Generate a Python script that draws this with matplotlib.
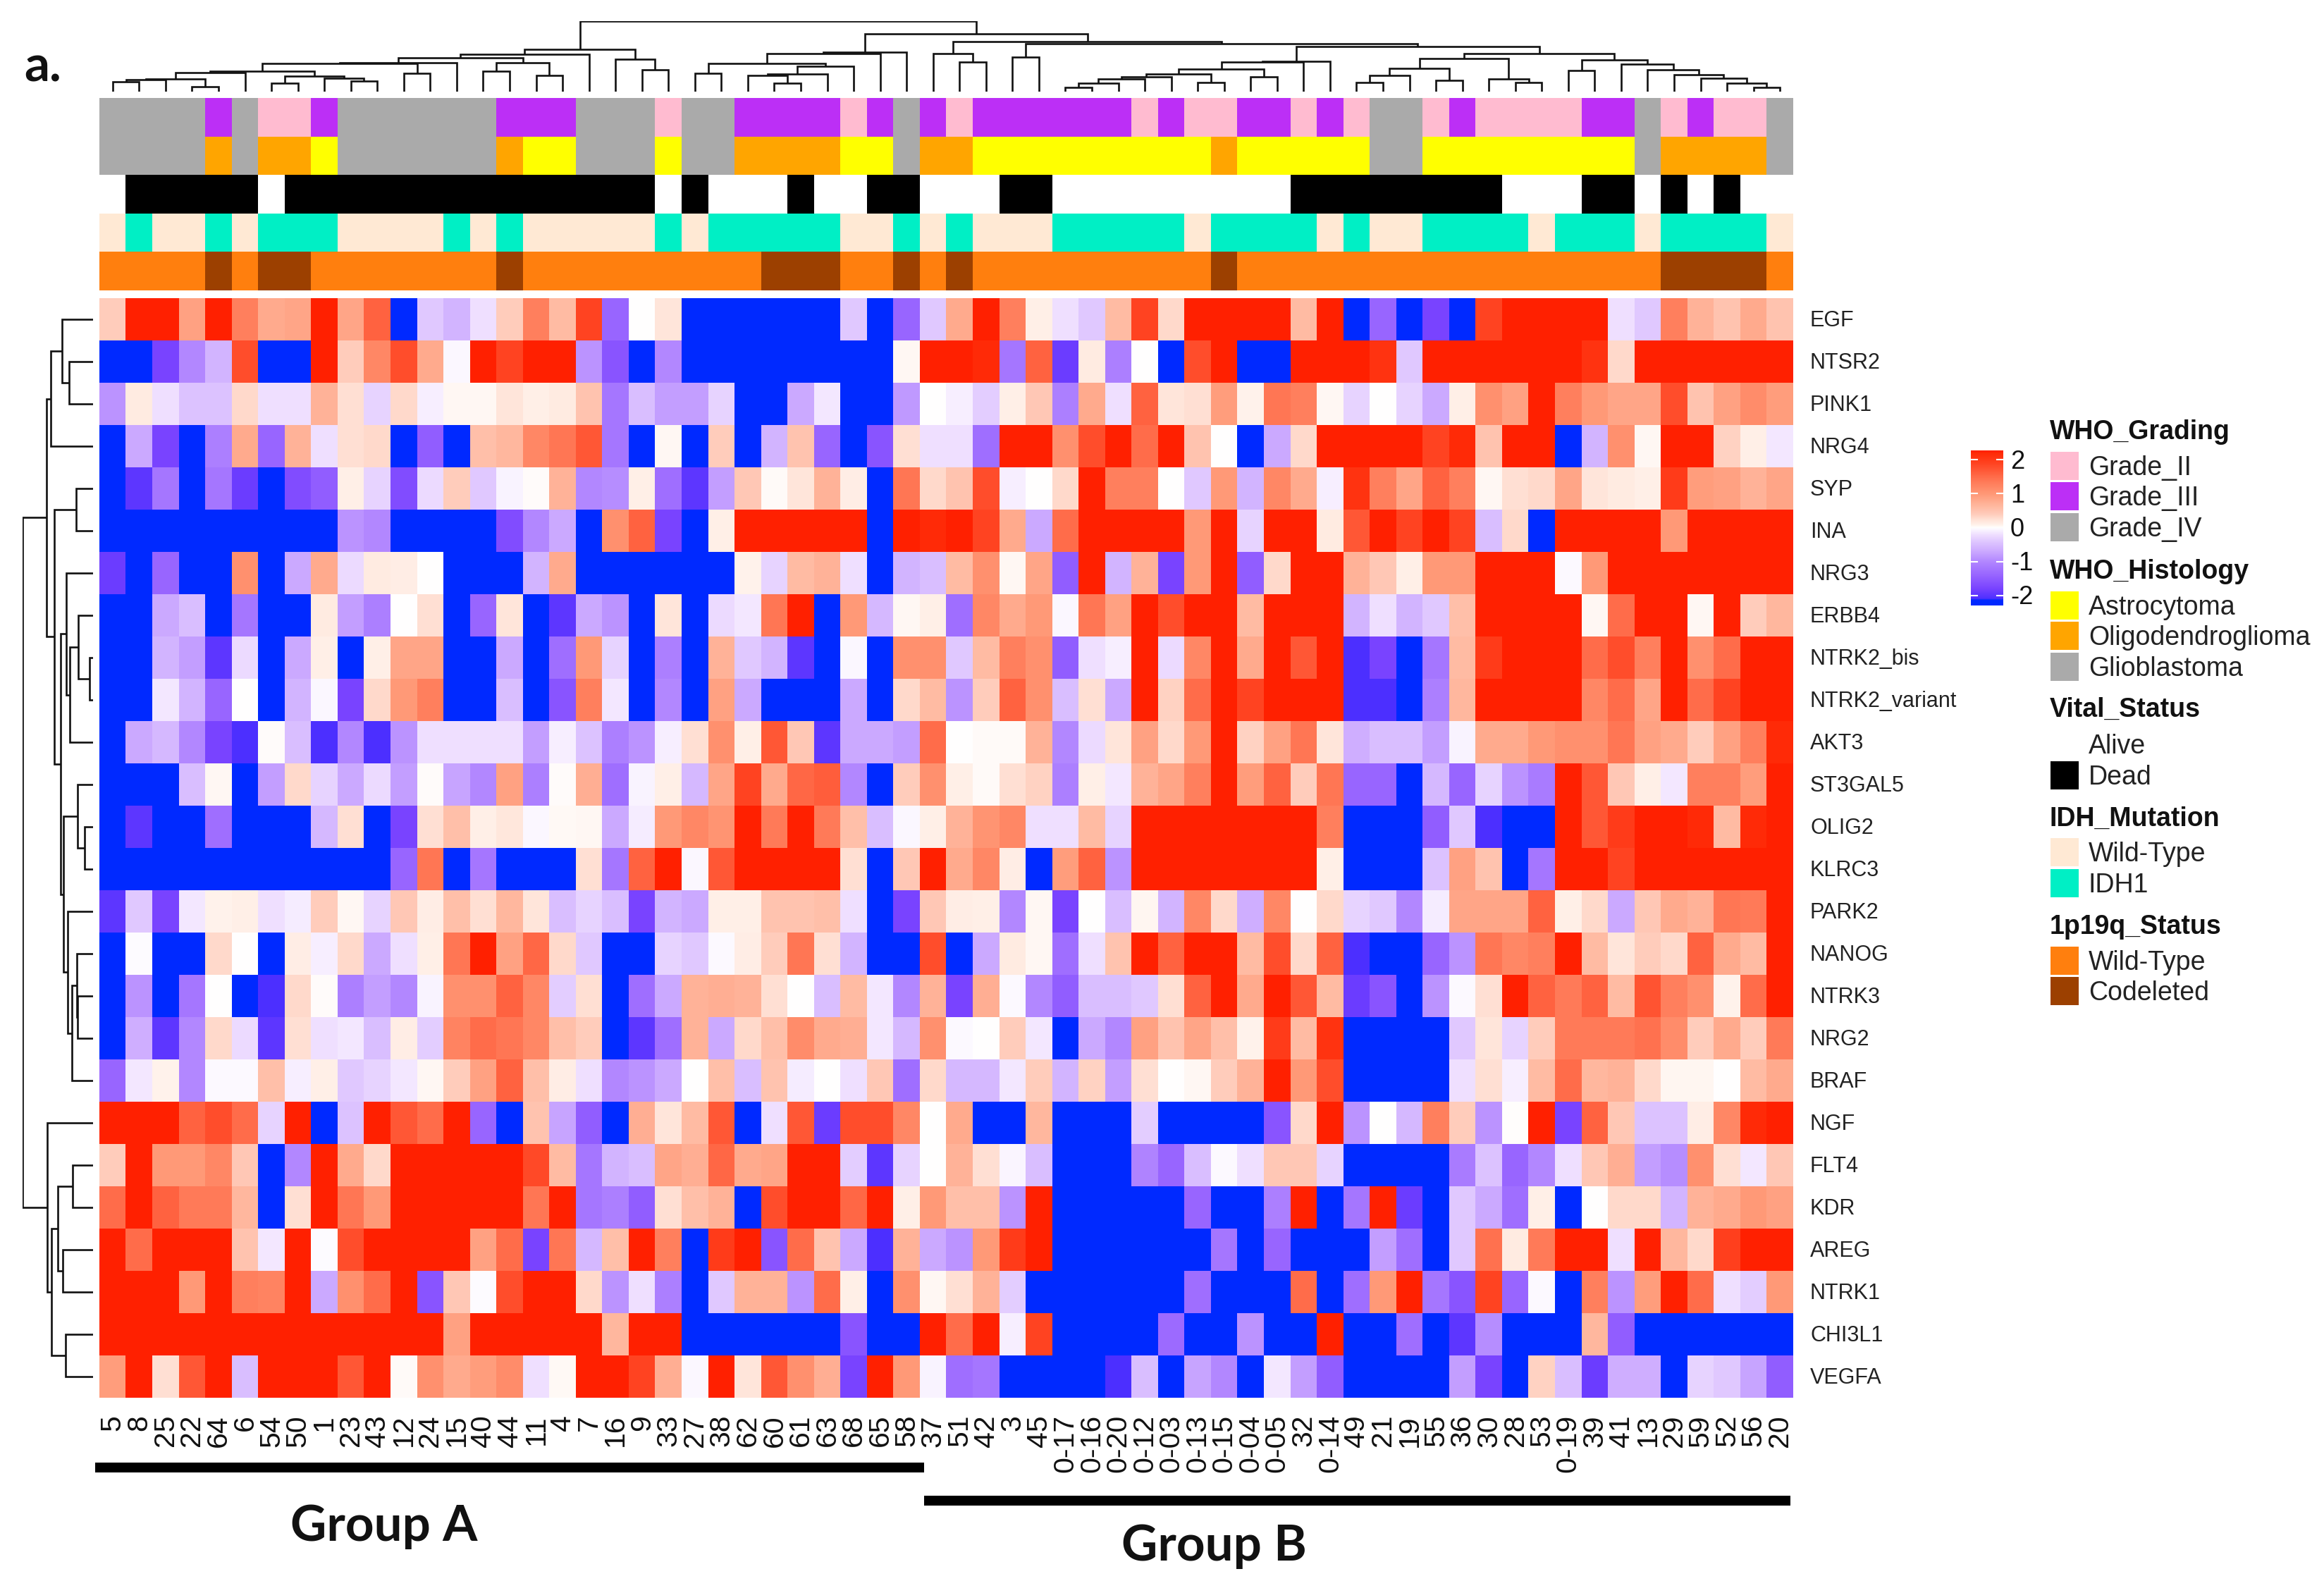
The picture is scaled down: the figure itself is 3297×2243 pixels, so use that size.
#!/usr/bin/env python3
# -*- coding: utf-8 -*-
import numpy as np
import matplotlib
matplotlib.use('Agg')
import matplotlib.pyplot as plt
from matplotlib.colors import LinearSegmentedColormap, Normalize, to_rgb
from matplotlib.patches import Rectangle

R = 2.5    # saturated red
B = -2.5   # saturated blue

samples = ['5','8','25','22','64','6','54','50','1','23','43','12','24','15','40','44','11','4','7','16','9','33',
           '27','38','62','60','61','63','68','65','58','37','51','42','3','45','0-17','0-16','0-20','0-12','0-03',
           '0-13','0-15','0-04','0-05','32','0-14','49','21','19','55','36','30','28','53','0-19','39','41','13',
           '29','59','52','56','20']

genes = ['EGF','NTSR2','PINK1','NRG4','SYP','INA','NRG3','ERBB4','NTRK2_bis','NTRK2_variant','AKT3','ST3GAL5',
         'OLIG2','KLRC3','PARK2','NANOG','NTRK3','NRG2','BRAF','NGF','FLT4','KDR','AREG','NTRK1','CHI3L1','VEGFA']

EGF = [.4,R,R,.9,R,1.3,.8,.85,R,.85,1.6,B,-.4,-.6,-.2,.4,1.3,.6,1.9,-1.4,0,.2,B,B,B,B,B,B,-.4,-2.2,-1.4,
       -.4,.8,R,1.3,.1,-.2,-.4,.6,1.9,.3,R,R,R,R,.6,R,B,-1.4,B,-1.8,B,1.9,R,R,R,R,-.2,-.4,1.3,.7,.5,.8,.5]
NTSR2 = [B,-2.2,-1.8,-1.0,-.6,1.8,B,B,R,.4,1.2,1.8,.8,-.05,R,1.9,R,R,-.9,-1.6,B,-1.0,B,B,B,B,B,B,B,B,.05,
         R,R,2.2,-1.2,1.6,-1.9,.15,-1.1,0,B,1.8,R,B,B,R,R,R,2.1,-.4,R,R,R,R,R,R,2.1,.3,R,R,R,R,R,R]
PINK1 = [-.9,.15,-.2,-.45,-.45,.3,-.2,-.2,.7,.25,-.3,.3,-.1,.05,.05,.2,.1,.15,.5,-1.2,-.5,-.8,-.8,-.3,B,B,-.7,-.15,B,B,-.85,
         0,-.1,-.35,.1,.45,-1.1,.8,-.2,1.6,.2,.25,.95,.08,1.4,1.3,.05,-.3,0,-.3,-.7,.1,1.1,.9,R,1.3,1.0,.85,.85,1.8,.5,.9,1.15,.95]
NRG4 = [B,-.7,-1.8,B,-1.1,.8,-1.4,.7,-.2,.25,.3,B,-1.5,B,.55,.65,1.2,1.4,1.7,-1.2,B,.05,B,.4,B,-.6,.5,-1.4,B,-1.6,.25,
        -.2,-.2,-1.3,R,R,1.1,1.8,R,1.5,R,.5,0,B,-.7,.3,R,R,R,R,1.9,2.2,.5,R,R,B,-.6,1.1,.05,R,R,.35,.1,-.15]
SYP = [B,-2.0,-1.2,B,-1.2,-1.9,B,-1.7,-1.5,.1,-.3,-1.7,-.25,.4,-.4,-.08,.02,.7,-1.0,-.95,.1,-1.3,-2.0,-.8,.45,.03,.2,.7,.12,B,1.4,
       .3,.5,1.8,-.1,0,.3,R,1.3,1.3,0,-.4,1.0,-.6,1.2,.8,-.1,2.1,1.3,.85,1.6,1.3,.05,.25,.3,.85,.2,.15,.1,2.0,.95,.9,.7,.85]
INA = [B,B,B,B,B,B,B,B,B,-.9,-1.0,B,B,B,B,-1.7,-1.0,-.7,B,1.1,1.6,-1.8,-2.3,.1,R,R,R,R,R,B,R,
       2.2,R,1.9,.8,-.7,1.5,R,R,R,R,1.0,R,-.3,R,R,.15,1.7,R,1.9,R,1.9,-.5,.3,B,R,R,R,R,1.0,R,R,R,R]
NRG3 = [-1.9,B,-1.4,B,B,1.1,B,-.7,.8,-.25,.15,.12,0,B,B,B,-.6,.8,B,B,B,B,B,B,.08,-.3,.6,.7,-.2,B,-.6,
        -.5,.6,1.1,.05,.85,-1.5,R,-.6,.7,-1.8,1.0,R,-1.5,.3,R,R,.7,.45,.1,1.0,1.0,R,R,R,-.03,1.0,R,R,R,R,R,R,R]
ERBB4 = [B,B,-.7,-.5,B,-1.2,B,B,.15,-.8,-1.1,0,.25,B,-1.4,.2,B,-2.0,-.7,-.9,B,.2,B,-.25,-.15,1.4,R,B,1.0,-.55,.05,
         .1,-1.3,1.2,.8,1.0,-.05,1.4,.9,R,1.8,R,R,.6,2.3,R,R,-.6,-.2,-.6,-.4,.55,R,R,R,R,.05,1.5,2.3,2.3,.05,R,.4,.65]
NTRK2_bis = [B,B,-.6,-.8,-2.0,-.25,B,-.7,.1,-2.2,.1,.85,.85,B,B,-.7,B,-1.3,1.0,-.3,B,-1.1,B,.7,-.4,-.6,-2.0,B,-.05,B,1.1,
             1.1,-.4,.6,1.3,1.1,-1.5,-.2,-.1,R,-.25,1.2,R,.8,R,1.7,R,-2.1,-1.8,B,-1.2,.6,2.0,R,R,R,1.5,1.8,1.3,R,1.1,1.5,R,R]
NTRK2_variant = [B,B,-.15,-.6,-1.4,0,B,-.6,-.05,-1.8,.3,1.0,1.3,B,-2.2,-.5,B,-1.6,1.3,-.15,B,-1.0,B,.9,-.7,B,B,B,-.7,B,.3,
                 .6,-.9,.4,1.6,1.1,-.5,.25,-.7,R,.35,1.5,R,1.9,R,R,R,-2.1,-2.1,B,-1.1,.65,R,R,R,R,1.2,1.5,.85,R,1.5,1.9,R,R]
AKT3 = [B,-.7,-.55,-1.0,-1.8,-2.1,.02,-.5,-2.1,-1.0,-2.1,-.9,-.2,-.2,-.2,-.2,-.8,-.1,-.45,-1.1,-.9,-.1,.25,1.1,.1,1.7,.45,-2.0,-.7,-.7,-.8,
        1.5,0,.03,.03,.7,-1.0,-.25,.2,.9,.3,1.0,R,.35,.9,1.4,.2,-.65,-.5,-.5,-.8,-.08,.8,.8,1.0,1.1,1.1,1.4,.9,.8,.4,.9,1.3,2.2]
ST3GAL5 = [-2.2,B,B,-.5,.05,B,-.8,.3,-.3,-.7,-.25,-.8,.02,-.75,-1.0,.9,-1.1,.02,.75,-1.3,-.08,.1,-.55,.85,1.9,.8,1.55,1.65,-1.0,B,.4,
           1.1,.1,.03,.25,.35,-1.1,.1,-.15,.7,.85,1.3,R,.95,1.6,.4,1.4,-1.4,-1.4,B,-.55,-1.4,-.3,-.9,-1.15,R,1.7,.45,.1,-.15,1.3,1.3,.95,R]
OLIG2 = [B,-2.0,B,B,-1.3,B,B,B,-.55,.25,B,-1.8,.25,.55,.1,.18,-.05,.04,.05,-.7,-.12,1.0,1.2,1.05,R,1.35,R,1.35,.55,-.5,-.05,
         .1,.7,1.05,1.2,-.2,-.2,.6,-.3,R,R,R,R,R,R,R,1.3,B,B,B,-1.5,-.4,-2.1,B,B,R,1.7,2.0,R,2.3,2.2,.6,2.2,R]
KLRC3 = [B,B,B,B,B,B,B,B,B,B,B,-1.4,1.4,B,-1.2,B,B,B,.25,-1.2,1.6,R,-.05,1.7,R,R,R,R,.25,B,.45,
         R,.8,1.2,.12,B,.95,1.6,-.9,R,R,R,R,R,R,R,.1,B,B,B,-.45,.9,.5,B,-1.2,R,R,1.9,R,R,R,R,R,R]
PARK2 = [-2.0,-.4,-1.8,-.15,.08,.1,-.2,-.12,.4,.05,-.3,.45,.12,.55,.25,.65,.2,-.5,-.3,-.5,-1.8,-.6,-.7,.1,.1,.5,.5,.55,-.2,B,-1.8,
         .45,.12,.1,-1.0,.05,-1.8,0,-.5,.06,-.6,1.2,.3,-.65,1.2,0,.3,-.3,-.4,-1.0,-.12,.85,.85,.85,1.6,.1,.3,-.7,.45,.8,.7,1.4,1.35,R]
NANOG = [B,-.02,B,B,.3,0,B,.12,-.1,.3,-.7,-.2,.1,1.4,R,.9,1.55,.3,-.4,B,B,-.3,-.4,-.03,.12,.4,1.4,.25,-.6,B,B,
         1.8,B,-.7,.15,.05,-1.3,-.2,.5,R,1.6,R,R,.6,1.8,.3,1.6,-2.1,B,B,-1.4,-.9,1.4,1.2,1.3,R,.6,.2,.4,.3,1.6,.8,.6,R]
NTRK3 = [B,-.9,B,-1.2,0,B,-2.1,.3,.02,-1.1,-.8,-1.0,-.08,1.1,1.1,1.6,1.2,-.35,.25,B,-1.3,-.7,.7,.75,.7,.25,0,-.5,.6,-.15,-1.0,
         .7,-1.8,.75,-.03,-1.0,-1.5,-.5,-.5,-.4,.25,1.6,2.4,.8,R,1.7,.6,-1.9,-1.6,B,-.9,-.03,.25,R,1.6,1.35,1.6,.6,1.75,1.3,1.1,.08,1.5,R]
NRG2 = [B,-.65,-2.0,-1.0,.3,-.25,-2.0,.25,-.2,-.15,-.5,.12,-.35,1.25,1.5,1.4,1.2,.55,.4,-2.2,-2.0,-1.3,.7,-.7,.3,.55,1.15,.8,.75,-.15,-.55,
        1.1,-.03,0,.4,-.15,B,-.7,-1.0,.9,.5,.85,.55,.08,2.0,.6,2.1,B,B,B,B,-.4,.2,-.3,.4,1.35,1.35,1.35,1.45,1.15,.4,.8,.4,1.35]
BRAF = [-1.4,-.15,.08,-1.0,-.03,-.03,.55,-.1,.1,-.4,-.3,-.15,.05,.4,.9,1.6,.55,.12,-.2,-1.0,-.9,-.7,0,.55,-.5,.5,-.12,0,-.2,.45,-1.3,
        .3,-.55,-.55,-.15,.4,-.6,.35,-.8,.25,0,.05,.4,.7,R,1.0,1.8,B,-2.4,B,-2.3,-.2,.25,-.1,.6,1.5,.65,.7,.3,.06,.06,0,.6,.8]
NGF = [R,R,R,1.6,1.8,1.5,-.3,R,B,-.45,R,1.7,1.5,R,-1.4,B,.5,-.75,-1.5,B,.75,.2,.6,1.7,B,-.2,1.7,-1.9,1.8,1.8,1.2,
       0,.8,B,B,.65,B,B,B,-.35,B,B,B,B,-1.6,.3,R,-.9,0,-.55,1.3,.4,-.9,.01,R,-1.8,1.6,.45,-.45,-.45,.12,1.2,2.2,R]
FLT4 = [.4,R,1.0,1.0,1.2,.45,B,-1.0,R,.8,.3,R,R,R,R,R,1.85,.6,-1.2,-.6,-.5,.85,.75,1.55,.8,.85,R,R,-.35,-2.0,-.3,
        0,.7,.25,-.06,-.5,B,B,B,-1.05,-1.4,-.5,-.03,-.2,.45,.45,-.3,B,B,B,-2.3,-1.15,-.45,-1.4,-1.0,-.2,.45,.75,-.8,-.95,1.1,.25,-.15,.45]
KDR = [1.5,R,1.6,1.35,1.35,.65,B,.25,R,1.4,1.0,R,R,R,R,R,1.4,R,-1.2,-1.1,-1.5,.25,.55,.7,B,1.8,R,R,1.55,R,.1,
       1.0,.55,.55,-.9,R,B,B,B,B,B,-1.4,B,B,-1.1,R,B,-1.2,R,-1.9,B,-.4,-.7,-1.3,.1,B,0,.3,.3,-.6,.7,.8,1.0,.9]
AREG = [R,1.5,R,R,R,.5,-.15,R,-.02,1.8,R,R,R,R,.9,1.5,-1.8,1.4,-.55,.55,R,1.3,-2.2,2.0,R,-1.6,1.5,.5,-.7,-2.1,.7,
        -.7,-.9,1.0,2.0,2.3,B,B,B,B,B,B,-1.2,B,-1.4,B,B,B,-.8,-1.3,B,-.4,1.45,.15,1.35,R,R,-.2,R,.65,.3,1.95,R,R]
NTRK1 = [R,R,R,1.0,R,1.3,1.25,R,-.7,1.1,1.5,2.3,-1.6,.45,-.02,1.8,R,R,.3,-.9,-.2,-1.1,B,-.4,.7,.7,-.9,1.5,.1,B,1.1,
         .05,.25,.7,-.35,B,B,B,B,B,B,-1.3,B,B,B,1.5,B,-1.3,1.0,R,-1.2,-1.6,1.9,-1.4,-.03,B,1.3,-.9,.95,R,1.5,-.2,-.35,1.0]
CHI3L1 = [R,R,R,R,R,R,R,R,R,R,R,R,R,.9,R,R,R,R,R,.65,R,R,B,B,B,B,B,B,-1.6,B,B,
          R,1.5,R,-.1,1.9,B,B,B,B,-1.35,B,B,-.9,B,B,R,B,B,-1.3,B,-2.0,-.95,B,B,B,.65,-1.5,B,B,B,B,B,B]
VEGFA = [.95,R,.25,1.7,R,-.5,R,R,R,1.7,R,.03,1.1,.8,.95,1.15,-.2,.04,R,R,1.9,.75,-.05,R,.2,1.7,1.1,.75,-1.8,R,1.0,
         -.08,-1.3,-1.2,B,B,B,B,-2.1,-.5,B,-.75,-1.0,-2.4,-.15,-.8,-1.5,B,B,B,B,-.8,-1.8,B,.35,-.5,-1.9,-.65,-.65,B,-.3,-.4,-.75,-1.5]

expression = np.array([EGF,NTSR2,PINK1,NRG4,SYP,INA,NRG3,ERBB4,NTRK2_bis,NTRK2_variant,AKT3,ST3GAL5,OLIG2,KLRC3,
                       PARK2,NANOG,NTRK3,NRG2,BRAF,NGF,FLT4,KDR,AREG,NTRK1,CHI3L1,VEGFA])

# annotation tracks, one letter per sample
grading = 'SSSSPSKKPS' 'SSSSSPPPSS' 'SKSSPPPPKP' 'SPKPPPPPPK' 'PKKPPKPKSS' 'KPKKKKPPSK' 'PKKS'
histology = 'GGGGOGOOYG' 'GGGGGOYYGG' 'GYGGOOOOYY' 'GOOYYYYYYY' 'YYOYYYYYGG' 'YYYYYYYYGO' 'OOOG'
vital = 'ADDDDDADDD' 'DDDDDDDDDD' 'DADAAADAAD' 'DAAADDAAAA' 'AAAAADDDDD' 'DDDAAADDAD' 'ADAA'
idh = 'WIWWIWIIIW' 'WWWIWIWWWW' 'WIWIIIIIWW' 'IWIWWWIIII' 'IWIIIIWIWW' 'IIIIWIIIWI' 'IIIW'
codel = 'WWWWCWCCWW' 'WWWWWCWWWW' 'WWWWWCCCWW' 'CWCWWWWWWW' 'WWCWWWWWWW' 'WWWWWWWWWC' 'CCCW'

grading_col = {'K': '#FFBBD0', 'P': '#BC2FF6', 'S': '#AAAAAA'}
histology_col = {'Y': '#FFFF00', 'O': '#FFA500', 'G': '#AAAAAA'}
vital_col = {'A': '#FFFFFF', 'D': '#000000'}
idh_col = {'W': '#FFE9D4', 'I': '#00EFC5'}
codel_col = {'W': '#FF7F0E', 'C': '#9C4000'}

# dendrograms: (height, left, right), ints are leaf positions
col_left = (180, (158, (142, (122, (120, (85, (80, (55, (50, (42, 0, 1), 2), (20, 3, 4)), 5),
                                         (65, (35, 6, 7), (58, 8, (45, 9, 10)))),
                                    (78, 11, 12)), 13),
                             (122, (87, 14, 15), (68, 16, 17))), 18),
            (138, 19, (92, 20, 21)))
col_b = (168, (160, (118, (78, 22, 23), (106, (74, (68, 24, (37, 25, 26)), 27), 28)), 29), 30)
col_c = (160, 31, (125, 32, 33))
col_d = (128, (125, (95, (75, (63, (55, (35, (18, 36, 37), 38), 39), 40), (38, 41, 42)), (63, 43, 44)), 45), 46)
col_e = (140, (98, (68, (38, 47, 48), 49), (48, 50, 51)), (55, 52, (38, 53, 54)))
col_f = (135, (90, 55, 56), (115, 57, (92, 58, (72, 59, (57, 60, (35, 61, (18, 62, 63)))))))
col_tree = (298, col_left, (245, col_b, (212, col_c, (202, (147, 34, 35), (190, col_d, (162, col_e, col_f))))))

row_top = (198, (178, (130, 0, (100, 1, 2)), 3),
           (163, (73, 4, 5),
            (138, (113, 6, (97, (62, 7, (15, 8, 9)), 10)),
             (125, (65, 11, (37, 12, 13)), (108, 14, (90, (70, 15, (65, 16, 17)), 18))))))
row_bot = (195, 19, (177, (148, (85, 20, 21), (128, 22, 23)), (117, 24, 25)))
row_tree = (298, row_top, row_bot)

W, H = 3297, 2243
plt.rcParams['font.family'] = ['Liberation Sans', 'DejaVu Sans']
fig = plt.figure(figsize=(W/100, H/100), dpi=100)
fig.patch.set_facecolor('white')


def px_axes(x0, y0, x1, y1):
    ax = fig.add_axes([x0/W, 1-y1/H, (x1-x0)/W, (y1-y0)/H])
    ax.axis('off')
    return ax


def draw_tree(ax, node, horizontal=False):
    if isinstance(node, int):
        return node + 0.5, 0
    h, left, right = node
    p1, h1 = draw_tree(ax, left, horizontal)
    p2, h2 = draw_tree(ax, right, horizontal)
    ps, hs = [p1, p1, p2, p2], [h1, h, h, h2]
    if horizontal:
        ax.plot(hs, ps, color='#111111', lw=1.9, solid_joinstyle='miter', solid_capstyle='butt')
    else:
        ax.plot(ps, hs, color='#111111', lw=1.9, solid_joinstyle='miter', solid_capstyle='butt')
    return (p1 + p2)/2, h


# colour scale
vmin, vmax = -2.3, 2.28
stops = [(-2.3, '#0029FF'), (-2.16, '#0029FF'), (-2.1, '#5030FF'), (-1.8, '#7A44FF'), (-1.4, '#9966FF'),
         (-1.0, '#B388FF'), (-.7, '#CCAAFF'), (-.4, '#E0C8FF'), (-.2, '#F0E0FF'), (0, '#FFFFFF'),
         (.1, '#FFF0E8'), (.25, '#FFE0D4'), (.4, '#FFCCBB'), (.7, '#FFB399'), (1.0, '#FF9977'),
         (1.4, '#FF7755'), (1.9, '#FF4422'), (2.2, '#FF2C08'), (2.28, '#FF2000')]
cmap = LinearSegmentedColormap.from_list('expr', [((v-vmin)/(vmax-vmin), c) for v, c in stops], N=512)
norm = Normalize(vmin, vmax, clip=True)

L, Rg = 141, 2544
TOP, BOT = 423, 1983

# heatmap
ax = px_axes(L, TOP, Rg, BOT)
ax.imshow(expression, cmap=cmap, norm=norm, aspect='auto', interpolation='nearest')

# annotation tracks
tracks = [(grading, grading_col, 139, 194), (histology, histology_col, 194, 248), (vital, vital_col, 248, 303),
          (idh, idh_col, 303, 357), (codel, codel_col, 357, 411)]
for letters, colours, y0, y1 in tracks:
    ax = px_axes(L, y0, Rg, y1+1)
    ax.imshow([[to_rgb(colours[c]) for c in letters]], aspect='auto', interpolation='nearest')

# dendrograms
ax = px_axes(L, 30, Rg, 130)
draw_tree(ax, col_tree)
ax.set_xlim(0, 64)
ax.set_ylim(0, 298)
ax = px_axes(32, TOP, 132, BOT)
draw_tree(ax, row_tree, horizontal=True)
ax.set_xlim(298, 0)
ax.set_ylim(26, 0)

# everything else sits on a pixel overlay
ov = px_axes(0, 0, W, H)
ov.set_xlim(0, W)
ov.set_ylim(H, 0)
ov.patch.set_alpha(0)

col_w = (Rg-L)/64
row_h = (BOT-TOP)/26
for i, s in enumerate(samples):
    ov.text(L+col_w*(i+.5), 2007, s, rotation=90, ha='center', va='top', fontsize=29.5, color='#111111')
for i, g in enumerate(genes):
    ov.text(2568, TOP+row_h*(i+.5)+2, g, ha='left', va='center', fontsize=22, color='#222222')

# group bars
ov.add_patch(Rectangle((135, 2075), 1176, 14, color='black', lw=0))
ov.add_patch(Rectangle((1311, 2122), 1229, 14, color='black', lw=0))
ov.text(545, 2166, 'Group A', family='Lato', weight='bold', fontsize=51, ha='center', va='center', color='#111111')
ov.text(1722, 2193, 'Group B', family='Lato', weight='bold', fontsize=51, ha='center', va='center', color='#111111')
ov.text(34, 95, 'a.', family='Lato', weight='bold', fontsize=51, ha='left', va='center', color='#111111')

# colour bar
cb = px_axes(2796, 639, 2842, 859)
cb.imshow(np.linspace(vmax, vmin, 220).reshape(-1, 1), cmap=cmap, norm=norm, aspect='auto',
          extent=[0, 1, vmin, vmax], interpolation='bilinear')
for v in [-2, -1, 1, 2]:
    cb.plot([0, .2], [v, v], color='white', lw=1.5)
    cb.plot([.8, 1], [v, v], color='white', lw=1.5)
cb.set_xlim(0, 1)
cb.set_ylim(vmin, vmax)
for v, lab in zip([2, 1, 0, -1, -2], ['2', '1', '0', '-1', '-2']):
    ypix = 639 + (vmax-v)/(vmax-vmin)*220
    ov.text(2852, ypix+3, lab, ha='left', va='center', fontsize=26, color='#111111')

# annotation legends
legend_groups = [
    ('WHO_Grading', 613, [('Grade_II', '#FFBBD0', 661), ('Grade_III', '#BC2FF6', 704), ('Grade_IV', '#AAAAAA', 748)]),
    ('WHO_Histology', 811, [('Astrocytoma', '#FFFF00', 859), ('Oligodendroglioma', '#FFA500', 902), ('Glioblastoma', '#AAAAAA', 946)]),
    ('Vital_Status', 1007, [('Alive', '#FFFFFF', 1056), ('Dead', '#000000', 1100)]),
    ('IDH_Mutation', 1162, [('Wild-Type', '#FFE9D4', 1209), ('IDH1', '#00EFC5', 1253)]),
    ('1p19q_Status', 1315, [('Wild-Type', '#FF7F0E', 1363), ('Codeleted', '#9C4000', 1406)]),
]
for title, ty, entries in legend_groups:
    ov.text(2908, ty, title, ha='left', va='center', fontsize=27, weight='bold', color='#111111')
    for lab, colour, yc in entries:
        ov.add_patch(Rectangle((2909, yc-20), 40, 40, color=colour, lw=0))
        ov.text(2963, yc+3, lab, ha='left', va='center', fontsize=27, color='#222222')

fig.savefig('out.png', dpi=100)
